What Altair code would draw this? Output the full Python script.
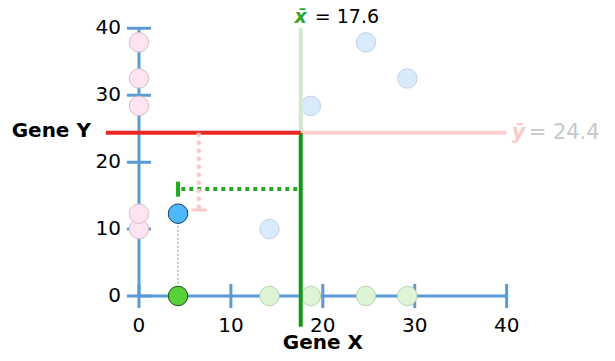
import altair as alt
import pandas as pd

# ---- data ----
gene_x = [14.2, 29.2, 18.7, 24.7, 4.25]
gene_y = [10.0, 32.5, 28.4, 37.9, 12.3]
focus = 4                      # index of the highlighted sample
mean_x = 17.6
mean_y = 24.4
tick_values = [0, 10, 20, 30, 40]
dev_x_level = 16.0             # height of the x-deviation bracket
dev_y_level = 6.5              # position of the y-deviation bracket
dev_y_end = 12.85

FONT = "DejaVu Sans"
AXIS_BLUE = "#5b9bd5"

xs = alt.Scale(domain=[-14.25, 50.92], nice=False, zero=False)
ys = alt.Scale(domain=[-8.52, 43.03], nice=False, zero=False)


def X(f="x"):
    return alt.X(f"{f}:Q", scale=xs, axis=None)


def Y(f="y"):
    return alt.Y(f"{f}:Q", scale=ys, axis=None)


def segs(rows, **mk):
    df = pd.DataFrame(rows, columns=["x", "y", "x2", "y2"])
    return alt.Chart(df).mark_rule(**mk).encode(
        x=X(), y=Y(), x2="x2:Q", y2="y2:Q")


def texts(rows, **mk):
    df = pd.DataFrame(rows, columns=["x", "y", "label"])
    return alt.Chart(df).mark_text(font=FONT, **mk).encode(
        x=X(), y=Y(), text="label:N")


def circles(xv, yv, **mk):
    df = pd.DataFrame({"x": xv, "y": yv})
    return alt.Chart(df).mark_circle(opacity=1, strokeWidth=1, size=380, **mk).encode(
        x=X(), y=Y())


lo, hi = tick_values[0], tick_values[-1]
axis_lines = segs([(lo, 0, hi, 0), (0, lo, 0, hi)], color=AXIS_BLUE, strokeWidth=3)

tick_df_x = pd.DataFrame({"x": tick_values, "y": [0] * len(tick_values)})
tick_df_y = pd.DataFrame({"x": [0] * len(tick_values), "y": tick_values})
xticks = alt.Chart(tick_df_x).mark_tick(orient="vertical", size=24, thickness=3,
                                        color=AXIS_BLUE, opacity=1).encode(x=X(), y=Y())
yticks = alt.Chart(tick_df_y).mark_tick(orient="horizontal", size=24, thickness=3,
                                        color=AXIS_BLUE, opacity=1).encode(x=X(), y=Y())

xlabels = texts([(t, 0, str(t)) for t in tick_values], align="center", baseline="middle",
                dy=30, fontSize=20, color="black")
ylabels = texts([(0, t, str(t)) for t in tick_values], align="right", baseline="middle",
                dx=-18, fontSize=20, color="black")

others = [i for i in range(len(gene_x)) if i != focus]
pink_pts = circles([0] * len(gene_y), gene_y, fill="#fde4f0", stroke="#d8bccb")
blue_pts = circles([gene_x[i] for i in others], [gene_y[i] for i in others],
                   fill="#d9ebfb", stroke="#bfd3e6")
green_pts = circles([gene_x[i] for i in others], [0] * len(others),
                    fill="#ddf4d7", stroke="#b9d3b3")

fx, fy = gene_x[focus], gene_y[focus]
connector = segs([(fx, fy, fx, 0)], color="#bbbbbb", strokeWidth=1.5, strokeDash=[2, 2])

mean_light = segs([(mean_x, mean_y, mean_x, hi)], color="#cfe8cc", strokeWidth=4)
mean_light2 = segs([(mean_x, mean_y, hi, mean_y)], color="#fdd0d0", strokeWidth=4)
mean_dark_x = segs([(mean_x, -4.6, mean_x, mean_y)], color="#119a11", strokeWidth=4)
mean_dark_y = segs([(-3.6, mean_y, mean_x, mean_y)], color="#e8271e", strokeWidth=4)

dev_x = segs([(fx + 0.35, dev_x_level, mean_x, dev_x_level)], color="#24a824",
             strokeWidth=4, strokeDash=[4, 4])
dev_x_cap = segs([(fx, 14.84, fx, 17.08)], color="#24a824", strokeWidth=4)
dev_y = segs([(dev_y_level, mean_y, dev_y_level, dev_y_end)], color="#fcc8c8",
             strokeWidth=4, strokeDash=[4, 4])
dev_y_cap = segs([(5.73, dev_y_end, 7.36, dev_y_end)], color="#fcc8c8", strokeWidth=3)

strong_blue = circles([fx], [fy], fill="#4db8fd", stroke="#173a55")
strong_green = circles([fx], [0], fill="#56d236", stroke="#224a14")

xbar_sym = texts([(mean_x, hi, "x\u0304")], align="center", baseline="bottom", dy=-1,
                 fontSize=19, fontWeight="bold", fontStyle="italic", color="#2ea82e")
xbar_val = texts([(mean_x, hi, f"= {mean_x}")], align="left", baseline="bottom", dx=14,
                 dy=-1, fontSize=19, color="black")
ybar_sym = texts([(hi, mean_y, "y\u0304")], align="center", baseline="middle", dx=12,
                 fontSize=21, fontWeight="bold", fontStyle="italic", color="#fcc8c8")
ybar_val = texts([(hi, mean_y, f"= {mean_y}")], align="left", baseline="middle", dx=22,
                 fontSize=21, color="#c8c8c8")

gene_y_lbl = texts([(-3.6, mean_y, "Gene Y")], align="right", baseline="middle", dx=-15,
                   dy=-2, fontSize=20, fontWeight="bold", color="black")
gene_x_lbl = texts([(20, 0, "Gene X")], align="center", baseline="middle", dy=47,
                   fontSize=20, fontWeight="bold", color="black")

chart = alt.layer(
    axis_lines, xticks, yticks, xlabels, ylabels,
    pink_pts, blue_pts, green_pts, connector,
    mean_light, mean_light2, mean_dark_x, mean_dark_y,
    dev_x, dev_x_cap, dev_y, dev_y_cap,
    strong_blue, strong_green,
    xbar_sym, xbar_val, ybar_sym, ybar_val, gene_y_lbl, gene_x_lbl,
).properties(
    width=599, height=345, padding=0,
    autosize=alt.AutoSizeParams(type="none"),
).configure_view(stroke=None)

chart.save("out.html", embed_options={"renderer": "svg", "actions": False})
